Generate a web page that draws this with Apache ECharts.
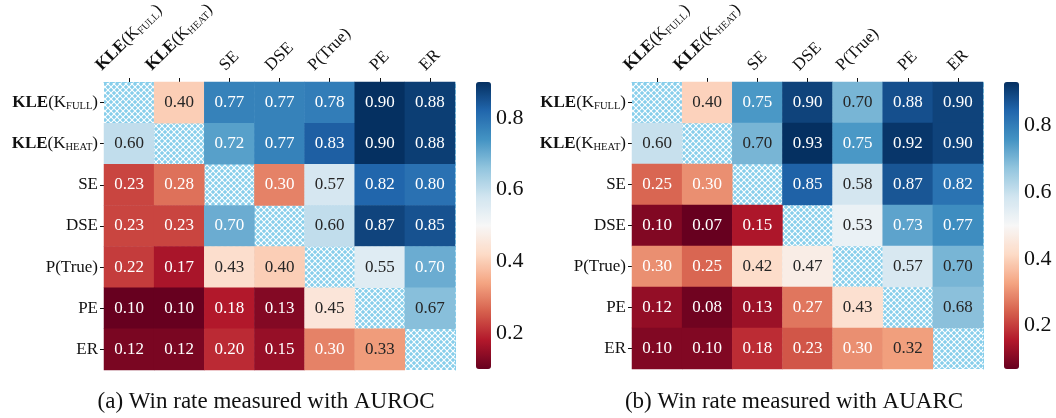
<!DOCTYPE html>
<html><head><meta charset="utf-8">
<script src="https://cdn.jsdelivr.net/npm/echarts@6/dist/echarts.min.js"></script>
<style>html,body{margin:0;padding:0;background:#fff}#c{width:1056px;height:418px}</style>
</head><body><div id="c"></div>
<script>
// ---------------- data ----------------
const methods = ['KLE(K_FULL)', 'KLE(K_HEAT)', 'SE', 'DSE', 'P(True)', 'PE', 'ER'];
// (a) AUROC win rates, row = method, column = compared method (null = diagonal)
const aurocKleFull = [null, 0.40, 0.77, 0.77, 0.78, 0.90, 0.88];
const aurocKleHeat = [0.60, null, 0.72, 0.77, 0.83, 0.90, 0.88];
const aurocSE      = [0.23, 0.28, null, 0.30, 0.57, 0.82, 0.80];
const aurocDSE     = [0.23, 0.23, 0.70, null, 0.60, 0.87, 0.85];
const aurocPTrue   = [0.22, 0.17, 0.43, 0.40, null, 0.55, 0.70];
const aurocPE      = [0.10, 0.10, 0.18, 0.13, 0.45, null, 0.67];
const aurocER      = [0.12, 0.12, 0.20, 0.15, 0.30, 0.33, null];
// (b) AUARC win rates
const auarcKleFull = [null, 0.40, 0.75, 0.90, 0.70, 0.88, 0.90];
const auarcKleHeat = [0.60, null, 0.70, 0.93, 0.75, 0.92, 0.90];
const auarcSE      = [0.25, 0.30, null, 0.85, 0.58, 0.87, 0.82];
const auarcDSE     = [0.10, 0.07, 0.15, null, 0.53, 0.73, 0.77];
const auarcPTrue   = [0.30, 0.25, 0.42, 0.47, null, 0.57, 0.70];
const auarcPE      = [0.12, 0.08, 0.13, 0.27, 0.43, null, 0.68];
const auarcER      = [0.10, 0.10, 0.18, 0.23, 0.30, 0.32, null];
const aurocRows = [aurocKleFull, aurocKleHeat, aurocSE, aurocDSE, aurocPTrue, aurocPE, aurocER];
const auarcRows = [auarcKleFull, auarcKleHeat, auarcSE, auarcDSE, auarcPTrue, auarcPE, auarcER];
const rangeA = [0.10, 0.90];
const rangeB = [0.07, 0.93];
const colorbarTicks = [0.2, 0.4, 0.6, 0.8];
const captionA = '(a) Win rate measured with AUROC';
const captionB = '(b) Win rate measured with AUARC';

// ---------------- styling ----------------
const FF = '"Liberation Serif", "Times New Roman", serif';
const RDBU = ['#67001f','#b2182b','#d6604d','#f4a582','#fddbc7','#f7f7f7','#d1e5f0','#92c5de','#4393c3','#2166ac','#053061'];
const SKY = '#87ceeb';
const LFS = 17, SFS = 10.5, LH = 19;

function hex2rgb(h){return [1,3,5].map(i=>parseInt(h.substr(i,2),16));}
function cmap(v, lo, hi){
  let t = Math.min(1, Math.max(0, (v-lo)/(hi-lo)));
  const p = t*10, i = Math.min(9, Math.floor(p)), f = p - i;
  const a = hex2rgb(RDBU[i]), b = hex2rgb(RDBU[i+1]);
  return a.map((x,k)=>x+(b[k]-x)*f);
}
function lum(rgb){
  const l = rgb.map(c=>{c/=255; return c<=0.03928? c/12.92 : Math.pow((c+0.055)/1.055,2.4);});
  return 0.2126*l[0]+0.7152*l[1]+0.0722*l[2];
}
function cells(rows, range){
  const out = [];
  rows.forEach((row,i)=>row.forEach((v,j)=>{
    if (v === null) return;
    const tc = lum(cmap(v, range[0], range[1])) > 0.408 ? '#262626' : '#ffffff';
    out.push({value:[j,i,v], label:{color:tc}});
  }));
  return out;
}
function hatch(){
  const s = 6, cv = document.createElement('canvas');
  cv.width = s; cv.height = s;
  const g = cv.getContext('2d');
  g.fillStyle = SKY; g.fillRect(0,0,s,s);
  g.strokeStyle = '#ffffff'; g.lineWidth = 1.1;
  g.beginPath(); g.moveTo(-1,-1); g.lineTo(s+1,s+1); g.moveTo(s+1,-1); g.lineTo(-1,s+1); g.stroke();
  return cv;
}
const pattern = {image: hatch(), repeat: 'repeat'};

function richName(name){
  const m = name.match(/^KLE\(K_(\w+)\)$/);
  if (m) return '{b|KLE}{n|(K}{s|' + m[1] + '}{n|)}';
  return '{n|' + name + '}';
}
const rich = {
  b: {fontFamily: FF, fontSize: LFS, fontWeight: 'bold', fill: '#111', color: '#111', lineHeight: LH, verticalAlign: 'middle'},
  n: {fontFamily: FF, fontSize: LFS, fill: '#111', color: '#111', lineHeight: LH, verticalAlign: 'middle'},
  s: {fontFamily: FF, fontSize: SFS, fill: '#111', color: '#111', lineHeight: SFS, verticalAlign: 'bottom'}
};
const mctx = document.createElement('canvas').getContext('2d');
function tw(font, t){ mctx.font = font; return mctx.measureText(t).width; }
function labelWidth(name){
  const m = name.match(/^KLE\(K_(\w+)\)$/);
  if (m) return tw('bold ' + LFS + 'px ' + FF, 'KLE') + tw(LFS + 'px ' + FF, '(K)') + tw(SFS + 'px ' + FF, m[1]);
  return tw(LFS + 'px ' + FF, name);
}

function heatX(gi){
  return {type:'category', gridIndex: gi, position:'top', data: methods,
    axisLine:{show:true, lineStyle:{color:SKY, type:'dashed', width:1}},
    axisTick:{show:true, alignWithLabel:true, length:4, interval:0, lineStyle:{color:'#111', width:1}},
    axisLabel:{show:false},
    splitLine:{show:false}, splitArea:{show:false}};
}
function heatY(gi){
  return {type:'category', gridIndex: gi, inverse:true, data: methods,
    axisLine:{show:false},
    axisTick:{show:true, alignWithLabel:true, length:4, interval:0, lineStyle:{color:'#111', width:1}},
    axisLabel:{interval:0, margin:6, formatter: v=>richName(v), rich: rich},
    splitLine:{show:false}, splitArea:{show:false}};
}
function edgeY(gi){
  return {type:'category', gridIndex: gi, position:'right', data: methods,
    axisLine:{show:true, lineStyle:{color:SKY, type:'dashed', width:1}},
    axisTick:{show:false}, axisLabel:{show:false}, splitLine:{show:false}};
}
function cbarY(gi, range){
  return {type:'value', gridIndex: gi, position:'right', min: range[0], max: range[1],
    axisLine:{show:false}, splitLine:{show:false},
    axisTick:{show:true, length:4, customValues: colorbarTicks, lineStyle:{color:'#111', width:1}},
    axisLabel:{show:true, margin:5, customValues: colorbarTicks, fontFamily: FF, fontSize: 22, color:'#111',
      formatter: v=>v.toFixed(1)}};
}
function cbarX(gi){ return {type:'value', gridIndex: gi, show:false, min:0, max:1}; }

const option = {
  animation: false,
  backgroundColor: '#fff',
  grid: [
    {left:104, top:82, width:351, height:288, show:true, backgroundColor: pattern, borderWidth:0, outerBoundsMode:'none'},
    {left:632, top:82, width:351, height:287, show:true, backgroundColor: pattern, borderWidth:0, outerBoundsMode:'none'},
    {left:476, top:82, width:15, height:287, outerBoundsMode:'none'},
    {left:1004, top:82, width:15, height:287, outerBoundsMode:'none'}
  ],
  xAxis: [heatX(0), heatX(1), cbarX(2), cbarX(3)],
  yAxis: [heatY(0), heatY(1), edgeY(0), edgeY(1), cbarY(2, rangeA), cbarY(3, rangeB)],
  visualMap: [
    {type:'continuous', seriesIndex:0, min:rangeA[0], max:rangeA[1], inRange:{color:RDBU},
      left:476, top:82, itemWidth:15, itemHeight:287, calculable:false, padding:0, hoverLink:false},
    {type:'continuous', seriesIndex:1, min:rangeB[0], max:rangeB[1], inRange:{color:RDBU},
      left:1004, top:82, itemWidth:15, itemHeight:287, calculable:false, padding:0, hoverLink:false}
  ],
  series: [
    {type:'heatmap', xAxisIndex:0, yAxisIndex:0, data: cells(aurocRows, rangeA),
      label:{show:true, fontFamily:FF, fontSize:17, formatter: p=>p.value[2].toFixed(2)},
      emphasis:{disabled:true}},
    {type:'heatmap', xAxisIndex:1, yAxisIndex:1, data: cells(auarcRows, rangeB),
      label:{show:true, fontFamily:FF, fontSize:17, formatter: p=>p.value[2].toFixed(2)},
      emphasis:{disabled:true}}
  ]
};
const chart = echarts.init(document.getElementById('c'), null, {renderer:'canvas'});
chart.setOption(option);

// rotated column labels, centred above each tick (tick positions from the axis scale)
const C45 = Math.SQRT1_2;
const graphics = [];
[0, 1].forEach(ai=>{
  methods.forEach((name, j)=>{
    const px = chart.convertToPixel({xAxisIndex: ai}, j);
    const topY = chart.convertToPixel({yAxisIndex: ai}, methods[0]) ; // first row centre
    const gridTop = 82;
    const L = labelWidth(name);
    const cy = gridTop - 8 - C45 * (L + 17) / 2;
    graphics.push({type:'text', x: px, y: cy, rotation: Math.PI / 4, silent: true,
      style:{text: richName(name), rich: rich, align:'center', verticalAlign:'middle',
        fontFamily: FF, fontSize: LFS, fill:'#111'}});
  });
});
graphics.push({type:'text', x:266, y:402, style:{text:captionA, fontFamily:FF, fontSize:23, fill:'#111', align:'center', verticalAlign:'middle'}});
graphics.push({type:'text', x:794, y:402, style:{text:captionB, fontFamily:FF, fontSize:23, fill:'#111', align:'center', verticalAlign:'middle'}});
chart.setOption({graphic: graphics});
</script>
</body></html>
